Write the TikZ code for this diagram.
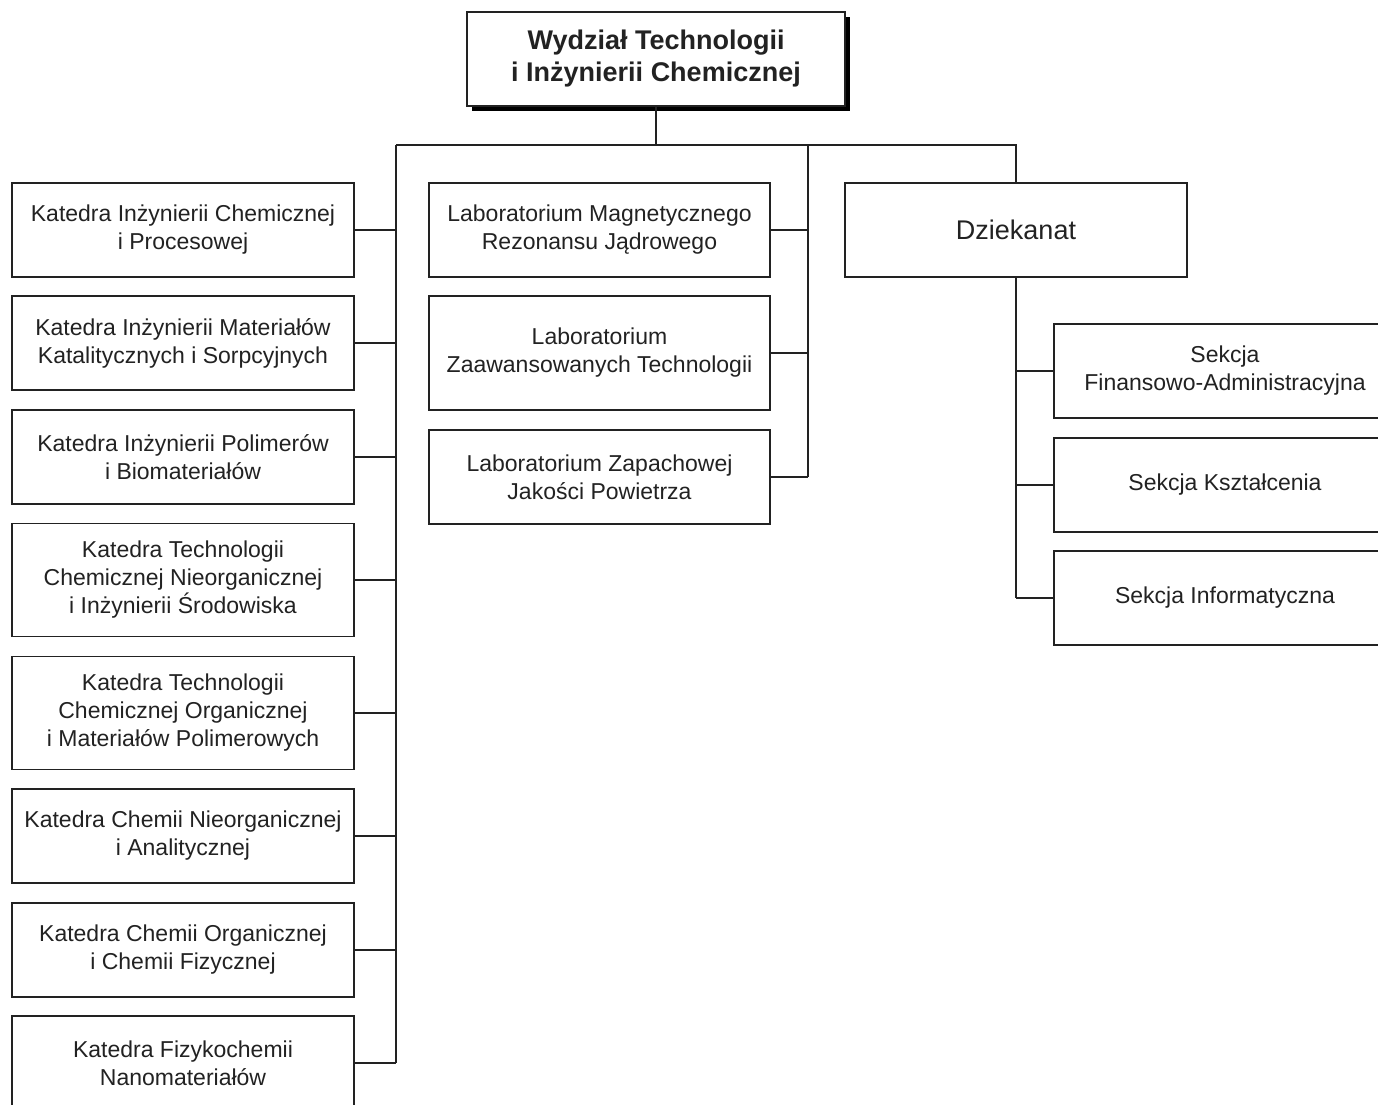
\documentclass[tikz,border=0pt]{standalone}
\usepackage{fontspec}
\setmainfont{Liberation Sans}
\usetikzlibrary{shadows}
\definecolor{ink}{HTML}{222222}
\begin{document}
\begin{tikzpicture}[x=1pt,y=-1pt,
  box/.style={draw=ink, line width=1.6pt, fill=white, rectangle, inner sep=0pt,
    align=center, text=ink, font=\fontsize{23}{28}\selectfont},
  kbox/.style={box, minimum width=342pt, minimum height=94pt},
  kboxt/.style={box, minimum width=342pt, minimum height=113pt},
  conn/.style={draw=ink, line width=1.6pt}]
\useasboundingbox (0,0) rectangle (1378,1105);
\clip (0,0) rectangle (1378,1105);
\fill[white] (0,0) rectangle (1378,1105);

% top
\node[box, minimum width=378pt, minimum height=94pt,
  font=\fontsize{27}{32}\selectfont\bfseries,
  drop shadow={shadow xshift=5pt, shadow yshift=-5pt, fill=black, opacity=1}]
  (top) at (656,59) {Wydział Technologii\\i Inżynierii Chemicznej};

% left column
\node[kbox] (k1) at (183,230) {Katedra Inżynierii Chemicznej\\i Procesowej};
\node[kbox] (k2) at (183,343) {Katedra Inżynierii Materiałów\\Katalitycznych i Sorpcyjnych};
\node[kbox] (k3) at (183,457) {Katedra Inżynierii Polimerów\\i Biomateriałów};
\node[kboxt] (k4) at (183,580) {Katedra Technologii\\Chemicznej Nieorganicznej\\i Inżynierii Środowiska};
\node[kboxt] (k5) at (183,713) {Katedra Technologii\\Chemicznej Organicznej\\i Materiałów Polimerowych};
\node[kbox] (k6) at (183,836) {Katedra Chemii Nieorganicznej\\i Analitycznej};
\node[kbox] (k7) at (183,950) {Katedra Chemii Organicznej\\i Chemii Fizycznej};
\node[kbox] (k8) at (183,1063) {Katedra Fizykochemii\\Nanomateriałów};

% middle column
\node[box, minimum width=341pt, minimum height=94pt] (l1) at (599.5,230) {Laboratorium Magnetycznego\\Rezonansu Jądrowego};
\node[box, minimum width=341pt, minimum height=114pt] (l2) at (599.5,353) {Laboratorium\\Zaawansowanych Technologii};
\node[box, minimum width=341pt, minimum height=94pt] (l3) at (599.5,477) {Laboratorium Zapachowej\\Jakości Powietrza};

% dziekanat
\node[box, minimum width=342pt, minimum height=94pt, font=\fontsize{27}{32}\selectfont] (dz) at (1016,230) {Dziekanat};
\node[kbox] (s1) at (1225,371) {Sekcja\\Finansowo-Administracyjna};
\node[kbox] (s2) at (1225,485) {Sekcja Kształcenia};
\node[kbox] (s3) at (1225,598) {Sekcja Informatyczna};

% buses
\coordinate (hb) at (656,145);
\coordinate (busL) at (396,145);
\coordinate (busM) at (808,145);
\coordinate (busR) at (1016,145);
\coordinate (busS) at (1016,277);

\draw[conn] (top.south) -- (hb);
\draw[conn] (busL) -- (busR) -- (dz.north);
\draw[conn] (busL) -- (k8.east -| busL);
\foreach \n in {k1,k2,k3,k4,k5,k6,k7,k8} {\draw[conn] (\n.east) -- (\n.east -| busL);}
\draw[conn] (busM) -- (l3.east -| busM);
\foreach \n in {l1,l2,l3} {\draw[conn] (\n.east) -- (\n.east -| busM);}
\draw[conn] (dz.south) -- (s3.west -| busS);
\foreach \n in {s1,s2,s3} {\draw[conn] (\n.west) -- (\n.west -| busS);}
\end{tikzpicture}
\end{document}
